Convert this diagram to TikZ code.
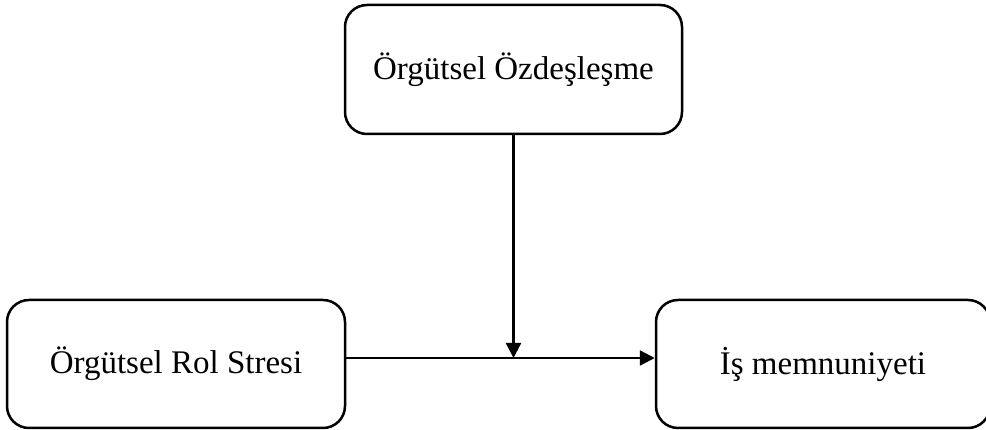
\documentclass[tikz,border=0pt]{standalone}
\usepackage{fontspec}
\setmainfont{Liberation Serif}
\usetikzlibrary{arrows.meta}
\begin{document}
\begin{tikzpicture}[x=1pt,y=-1pt,
  box/.style={draw=black,line width=2.5pt,rounded corners=22pt,fill=white,
    font=\fontsize{33}{40}\selectfont,inner sep=0pt},
  arr/.style={line width=2.3pt,-{Triangle[length=15pt,width=15pt]}}]
\useasboundingbox (0,0) rectangle (986,430);
\node[box,minimum width=337pt,minimum height=129pt] (T) at (513.5,69.5) {Örgütsel Özdeşleşme};
\node[box,minimum width=338pt,minimum height=128pt] (L) at (176,364) {Örgütsel Rol Stresi};
\node[box,minimum width=334pt,minimum height=128pt] (R) at (823,364) {İş memnuniyeti};
\coordinate (hl) at ([yshift=6pt]L.east);
\coordinate (hr) at ([yshift=6pt]R.west);
\draw[arr] (hl) -- (hr);
\draw[arr] (T.south) -- (T.south |- hl);
\end{tikzpicture}
\end{document}
